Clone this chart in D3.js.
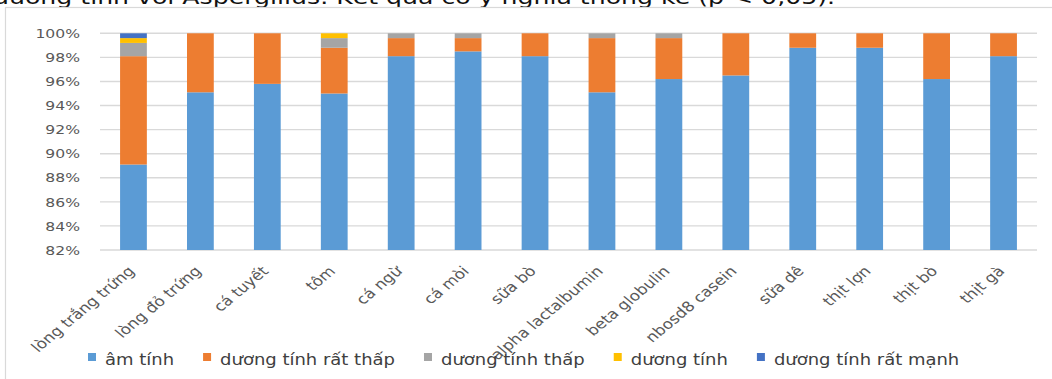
<!DOCTYPE html>
<html>
<head>
<meta charset="utf-8">
<script src="https://cdn.jsdelivr.net/npm/d3@7"></script>
<style>
  html, body { margin: 0; padding: 0; background: #fff; }
  svg { display: block; }
  text { font-family: "DejaVu Sans", sans-serif; }
</style>
</head>
<body>
<svg id="chart" width="1052" height="379"></svg>
<script>
// Food allergen groups (x axis)
const categories = [
  "lòng trắng trứng", "lòng đỏ trứng", "cá tuyết", "tôm", "cá ngừ", "cá mòi",
  "sữa bò", "alpha lactalbumin", "beta globulin", "nbosd8 casein", "sữa dê",
  "thịt lợn", "thịt bò", "thịt gà"
];

// Series names (legend order, stacked bottom to top)
const seriesNames = ["âm tính", "dương tính rất thấp", "dương tính thấp", "dương tính", "dương tính rất mạnh"];
const seriesColors = ["#5B9BD5", "#ED7D31", "#A5A5A5", "#FFC000", "#4472C4"];

// Percentages per category for each series
const amTinh        = [89.1, 95.1, 95.8, 95.0, 98.1, 98.5, 98.1, 95.1, 96.2, 96.5, 98.8, 98.8, 96.2, 98.1];
const duongRatThap  = [ 9.0,  4.9,  4.2,  3.8,  1.5,  1.1,  1.9,  4.5,  3.4,  3.5,  1.2,  1.2,  3.8,  1.9];
const duongThap     = [ 1.1,  0.0,  0.0,  0.8,  0.4,  0.4,  0.0,  0.4,  0.4,  0.0,  0.0,  0.0,  0.0,  0.0];
const duongTinh     = [ 0.4,  0.0,  0.0,  0.4,  0.0,  0.0,  0.0,  0.0,  0.0,  0.0,  0.0,  0.0,  0.0,  0.0];
const duongRatManh  = [ 0.4,  0.0,  0.0,  0.0,  0.0,  0.0,  0.0,  0.0,  0.0,  0.0,  0.0,  0.0,  0.0,  0.0];

// Y axis ticks
const yTicks = [82, 84, 86, 88, 90, 92, 94, 96, 98, 100];

const captionText = "dương tính với Aspergillus. Kết quả có ý nghĩa thống kê (p < 0,05).";

const seriesValues = [amTinh, duongRatThap, duongThap, duongTinh, duongRatManh];
const rows = categories.map((c, i) => {
  const r = { cat: c };
  seriesNames.forEach((s, k) => { r[s] = seriesValues[k][i]; });
  return r;
});

const svg = d3.select("#chart");
const SX = 1.2; // horizontal text stretch

// Caption line above the chart (partly cut off at the top)
svg.append("text")
  .attr("x", -7).attr("y", 4)
  .attr("font-size", 19)
  .attr("fill", "#111")
  .attr("textLength", 842)
  .attr("lengthAdjust", "spacingAndGlyphs")
  .text(captionText);

// Chart area border
svg.append("rect")
  .attr("x", 5.5).attr("y", 7.5)
  .attr("width", 1100).attr("height", 400)
  .attr("fill", "none")
  .attr("stroke", "#d9d9d9")
  .attr("stroke-width", 1.2);

const plot = { left: 100, right: 1037, top: 33.3, bottom: 250 };

const x = d3.scaleBand()
  .domain(categories)
  .range([plot.left, plot.right])
  .paddingInner(0.6)
  .paddingOuter(0.3);

const y = d3.scaleLinear()
  .domain([82, 100])
  .range([plot.bottom, plot.top])
  .clamp(true);

// Gridlines
svg.append("g")
  .selectAll("line")
  .data(yTicks)
  .join("line")
  .attr("x1", plot.left).attr("x2", plot.right)
  .attr("y1", d => y(d)).attr("y2", d => y(d))
  .attr("stroke", "#d9d9d9")
  .attr("stroke-width", 1.4);

// Y tick labels
svg.append("g")
  .selectAll("g")
  .data(yTicks)
  .join("g")
  .attr("transform", d => `translate(80,${y(d)}) scale(${SX},1)`)
  .append("text")
  .attr("text-anchor", "end")
  .attr("dy", "0.36em")
  .attr("font-size", 13)
  .attr("fill", "#595959")
  .text(d => d + "%");

// Stacked bars
const stacked = d3.stack().keys(seriesNames)(rows);
svg.append("g")
  .selectAll("g")
  .data(stacked)
  .join("g")
  .attr("fill", (d, i) => seriesColors[i])
  .selectAll("rect")
  .data(d => d)
  .join("rect")
  .attr("x", d => x(d.data.cat))
  .attr("width", x.bandwidth())
  .attr("y", d => y(d[1]))
  .attr("height", d => Math.max(0, y(d[0]) - y(d[1])));

// Category labels, rotated
svg.append("g")
  .selectAll("g")
  .data(categories)
  .join("g")
  .attr("transform", d => `translate(${x(d) + x.bandwidth() / 2 + 2},272) scale(${SX},1) rotate(-45)`)
  .append("text")
  .attr("text-anchor", "end")
  .attr("font-size", 14)
  .attr("fill", "#595959")
  .text(d => d);

// Legend
const legend = svg.append("g");
let lx = 88;
seriesNames.forEach((name, i) => {
  legend.append("rect")
    .attr("x", lx).attr("y", 353)
    .attr("width", 8).attr("height", 8)
    .attr("fill", seriesColors[i]);
  const g = legend.append("g")
    .attr("transform", `translate(${lx + 17},365) scale(${SX},1)`);
  const t = g.append("text")
    .attr("font-size", 15)
    .attr("fill", "#404040")
    .text(name);
  const w = t.node().getComputedTextLength() * SX;
  lx = lx + 17 + w + 29;
});
</script>
</body>
</html>
